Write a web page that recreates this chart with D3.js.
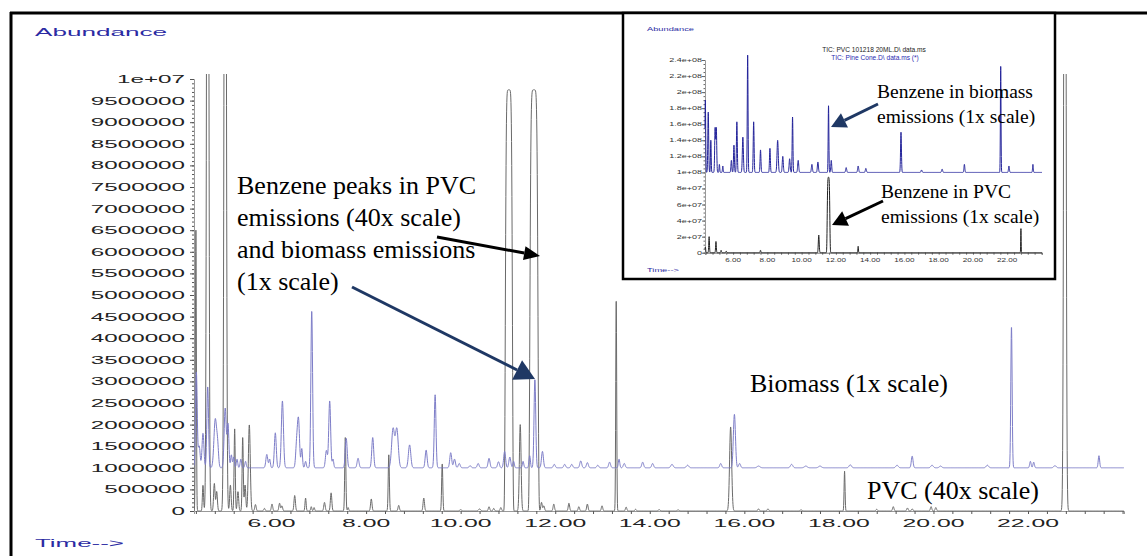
<!DOCTYPE html>
<html><head><meta charset="utf-8">
<script src="https://cdn.jsdelivr.net/npm/d3@7"></script>
<style>html,body{margin:0;padding:0;background:#fff;}svg{display:block;}</style>
</head><body>
<svg id="c" width="1147" height="556"></svg>
<script>
// ---------------- DATA ----------------
const timeDomain = [4.36, 24.03];
const mainYTicks = d3.range(0, 10000001, 500000);
const mainXTicks = [6, 8, 10, 12, 14, 16, 18, 20, 22];
const biomassBaseline = 1000000;
// biomass peaks: [time(min), height above baseline, sigma(min)]
const biomassPeaks = [
 [4.41,2220000,0.018],[4.47,500000,0.02],[4.55,800000,0.02],[4.65,1880000,0.018],[4.81,1120000,0.028],[4.86,450000,0.02],
 [5.02,1380000,0.022],[5.08,1000000,0.018],[5.15,300000,0.015],[5.2,250000,0.015],[5.27,200000,0.015],[5.35,200000,0.015],[5.45,150000,0.015],
 [5.9,310000,0.02],[5.96,200000,0.015],[6.08,810000,0.02],[6.23,1550000,0.022],[6.53,500000,0.02],[6.57,1100000,0.022],[6.64,440000,0.015],
 [6.72,150000,0.015],[6.85,3640000,0.018],[7.16,400000,0.02],[7.23,1550000,0.02],[7.3,200000,0.015],[7.58,680000,0.02],[7.83,220000,0.02],
 [8.14,700000,0.02],[8.57,900000,0.03],[8.65,900000,0.03],[8.92,530000,0.025],[9.27,410000,0.02],[9.46,1690000,0.018],[9.79,350000,0.02],
 [9.87,200000,0.02],[9.97,100000,0.02],[10.2,50000,0.02],[10.37,100000,0.02],[10.6,220000,0.02],[10.8,140000,0.02],[10.93,380000,0.02],
 [11.04,250000,0.02],[11.12,150000,0.015],[11.32,150000,0.015],[11.46,280000,0.015],[11.57,2050000,0.018],[11.73,380000,0.02],
 [11.98,80000,0.02],[12.2,80000,0.02],[12.35,80000,0.02],[12.54,160000,0.02],[12.68,120000,0.02],[12.9,60000,0.02],[13.15,130000,0.02],
 [13.35,200000,0.015],[13.46,100000,0.02],[13.85,130000,0.02],[14.06,100000,0.02],[14.47,80000,0.025],[14.8,60000,0.025],[15.5,100000,0.02],
 [15.79,1240000,0.022],[15.9,100000,0.02],[16.3,40000,0.03],[17.0,80000,0.025],[17.3,40000,0.03],[17.6,40000,0.03],[18.24,70000,0.025],
 [19.23,60000,0.025],[19.55,270000,0.018],[19.97,60000,0.025],[20.15,40000,0.025],[21.14,60000,0.025],[21.65,3280000,0.014],
 [22.05,150000,0.015],[22.12,130000,0.015],[22.57,50000,0.025],[23.5,280000,0.015]
];
// PVC (40x) peaks: [time, height, sigma, shape exponent]
const pvcPeaks = [
 [4.40,6500000,0.01,2],[4.55,600000,0.012,2],[4.65,25000000,0.02,2],[4.79,640000,0.015,2],[4.84,450000,0.015,2],[5.02,25000000,0.02,2],
 [5.13,600000,0.015,2],[5.22,1900000,0.012,2],[5.29,450000,0.015,2],[5.39,1720000,0.012,2],[5.44,600000,0.015,2],[5.53,2000000,0.02,2],
 [5.66,150000,0.015,2],[5.85,60000,0.015,2],[6.01,160000,0.015,2],[6.17,180000,0.015,2],[6.22,120000,0.015,2],[6.49,360000,0.015,2],
 [6.72,300000,0.012,2],[6.84,100000,0.012,2],[6.9,80000,0.012,2],[7.12,200000,0.015,2],[7.26,420000,0.015,2],[7.56,1700000,0.012,2],
 [7.62,80000,0.012,2],[8.11,280000,0.015,2],[8.48,1300000,0.012,2],[8.69,130000,0.015,2],[9.22,300000,0.015,2],[9.61,1100000,0.012,2],
 [10.0,30000,0.02,2],[10.4,50000,0.02,2],[10.6,100000,0.015,2],[10.7,60000,0.015,2],[10.85,80000,0.015,2],[11.02,9750000,0.07,6],
 [11.26,2000000,0.018,2],[11.55,9750000,0.08,6],[11.71,200000,0.015,2],[11.76,120000,0.015,2],[11.97,160000,0.015,2],[12.29,180000,0.015,2],
 [12.5,100000,0.015,2],[12.68,160000,0.015,2],[12.99,120000,0.015,2],[13.29,4950000,0.01,2],[13.5,90000,0.015,2],[13.7,40000,0.015,2],
 [14.2,30000,0.02,2],[14.6,25000,0.02,2],[15.71,1950000,0.022,2],[16.3,50000,0.015,2],[16.5,50000,0.015,2],[17.2,25000,0.02,2],
 [18.12,920000,0.01,2],[18.8,40000,0.015,2],[19.15,100000,0.015,2],[19.45,70000,0.015,2],[19.55,50000,0.015,2],[19.95,100000,0.015,2],
 [20.05,80000,0.015,2],[22.78,25000000,0.02,2]
];
// inset data
const insetYTicks = d3.range(0, 240000001, 20000000);
const insetXTicks = [6, 8, 10, 12, 14, 16, 18, 20, 22];
const insetBiomassBaseline = 100000000;
const insetBiomassPeaks = [
 [4.38,90000000,0.02],[4.55,75000000,0.025],[4.7,40000000,0.02],[4.95,55000000,0.025],[5.02,55000000,0.025],[5.2,10000000,0.02],
 [5.4,8000000,0.02],[5.9,15000000,0.025],[6.05,34000000,0.025],[6.22,63000000,0.025],[6.57,44000000,0.03],[6.85,146000000,0.022],
 [7.2,63000000,0.025],[7.6,28000000,0.025],[8.15,30000000,0.025],[8.6,40000000,0.035],[8.9,20000000,0.03],[9.3,17000000,0.03],
 [9.47,69000000,0.022],[9.8,15000000,0.03],[10.6,10000000,0.03],[10.95,13000000,0.03],[11.57,83000000,0.02],[11.73,15000000,0.025],
 [12.6,6000000,0.03],[13.3,8000000,0.03],[13.75,5000000,0.03],[15.8,50000000,0.025],[17.0,3000000,0.03],[18.2,4000000,0.03],
 [19.5,10000000,0.025],[21.62,132000000,0.018],[22.1,8000000,0.025],[23.5,10000000,0.02]
];
const insetPvcPeaks = [
 [4.38,7000000,0.02,2],[4.6,20000000,0.02,2],[5.0,14000000,0.02,2],[5.3,3000000,0.02,2],[5.6,2000000,0.02,2],[7.6,3000000,0.02,2],
 [11.0,22000000,0.025,2],[11.57,94000000,0.07,4],[13.3,8000000,0.015,2],[22.8,30000000,0.012,2]
];
const insetTitles = ["TIC: PVC 101218 20ML.D\\ data.ms", "TIC: Pine Cone.D\\ data.ms (*)"];
const mainNote = ["Benzene peaks in PVC", "emissions (40x scale)", "and biomass emissions", "(1x scale)"];
const insetNoteBio = ["Benzene in biomass", "emissions (1x scale)"];
const insetNotePvc = ["Benzene in PVC", "emissions (1x scale)"];

// ---------------- RENDER ----------------
const svg = d3.select("#c");
const BLUE_TXT = "#2b2ba3";

function trace(peaks, baseline, step) {
  const pts = [];
  for (let t = timeDomain[0]; t <= timeDomain[1] + 1e-9; t += step) {
    let v = baseline;
    for (const p of peaks) {
      const d = Math.abs((t - p[0]) / p[2]);
      if (d < 8) v += p[1] * Math.exp(-0.5 * Math.pow(d, p[3] || 2));
    }
    pts.push([t, v]);
  }
  return pts;
}

function stretchedText(g, x, y, str, size, sx, anchor, color) {
  return g.append("text")
    .attr("transform", `translate(${x},${y}) scale(${sx},1)`)
    .attr("text-anchor", anchor)
    .attr("font-family", "Liberation Sans, Arial, sans-serif")
    .attr("font-size", size)
    .attr("fill", color)
    .text(str);
}

// frame
svg.append("line").attr("x1", 11).attr("x2", 11).attr("y1", 12).attr("y2", 556).attr("stroke", "#000").attr("stroke-width", 3);
svg.append("line").attr("x1", 10).attr("x2", 1147).attr("y1", 13).attr("y2", 13).attr("stroke", "#000").attr("stroke-width", 3);

// main scales
const x = d3.scaleLinear().domain(timeDomain).range([194, 1124]);
const y = d3.scaleLinear().domain([0, 10000000]).range([511, 79]);

svg.append("clipPath").attr("id", "mclip").append("rect").attr("x", 194).attr("y", 74).attr("width", 932).attr("height", 440);

// axes
const gy = svg.append("g").attr("transform", "translate(194,0)");
gy.call(d3.axisLeft(y).tickValues(d3.range(0, 10000001, 100000)).tickSize(2).tickFormat(""));
gy.call(g => g.select(".domain").remove());
const gy2 = svg.append("g").attr("transform", "translate(194,0)");
gy2.call(d3.axisLeft(y).tickValues(mainYTicks).tickSize(4).tickFormat(""));
gy2.select(".domain").attr("stroke", "#999");
svg.selectAll("g.tick line").attr("stroke", "#555");
mainYTicks.forEach(v => {
  stretchedText(svg, 185, y(v) + 4, v === 10000000 ? "1e+07" : String(v), 11, 2.2, "end", "#222");
});

const gx = svg.append("g").attr("transform", "translate(0,511)");
gx.call(d3.axisBottom(x).tickValues(d3.range(4.4, 24.01, 0.4)).tickSize(3).tickFormat(""));
gx.select(".domain").attr("stroke", "#999");
gx.selectAll(".tick line").attr("stroke", "#555");
mainXTicks.forEach(v => {
  stretchedText(svg, x(v), 527, v.toFixed(2), 11, 2.25, "middle", "#222");
});

stretchedText(svg, 35, 36, "Abundance", 11.5, 2.27, "start", BLUE_TXT);
stretchedText(svg, 35, 547, "Time-->", 11.5, 2.25, "start", BLUE_TXT);

// traces
const line = d3.line().x(d => x(d[0])).y(d => y(d[1]));
const plot = svg.append("g").attr("clip-path", "url(#mclip)");
plot.append("path").attr("d", line(trace(pvcPeaks, 0, 0.004))).attr("fill", "none").attr("stroke", "#6a6a6a").attr("stroke-width", 1);
plot.append("path").attr("d", line(trace(biomassPeaks, biomassBaseline, 0.004))).attr("fill", "none").attr("stroke", "#7d7dc8").attr("stroke-width", 1);

// annotations main
function serif(g, x0, y0, lines, size, lh, color) {
  const t = g.append("text").attr("font-family", "Liberation Serif, Times New Roman, serif").attr("font-size", size).attr("fill", color || "#000");
  lines.forEach((s, i) => t.append("tspan").attr("x", x0).attr("y", y0 + i * lh).text(s));
}
serif(svg, 237, 194, mainNote, 26, 32);
serif(svg, 750, 392, ["Biomass (1x scale)"], 26, 0);
serif(svg, 867, 499, ["PVC (40x scale)"], 26, 0);

function arrow(g, x1, y1, x2, y2, color, w, hl, hw) {
  const a = Math.atan2(y2 - y1, x2 - x1);
  const bx = x2 - hl * Math.cos(a), by = y2 - hl * Math.sin(a);
  g.append("line").attr("x1", x1).attr("y1", y1).attr("x2", bx).attr("y2", by).attr("stroke", color).attr("stroke-width", w);
  const px = -Math.sin(a) * hw, py = Math.cos(a) * hw;
  g.append("path").attr("d", `M${x2},${y2}L${bx + px},${by + py}L${bx - px},${by - py}Z`).attr("fill", color);
}
arrow(svg, 352, 287, 535, 379, "#1f3864", 3, 20, 11);
arrow(svg, 437, 237, 540, 256, "#000", 3, 16, 7);

// ---------------- INSET ----------------
const ins = svg.append("g");
ins.append("rect").attr("x", 623).attr("y", 13).attr("width", 432).attr("height", 266).attr("fill", "#fff").attr("stroke", "#000").attr("stroke-width", 2.5);
const ix = d3.scaleLinear().domain(timeDomain).range([705, 1042]);
const iy = d3.scaleLinear().domain([0, 240000000]).range([252.7, 60]);

const iay = ins.append("g").attr("transform", "translate(705,0)");
iay.call(d3.axisLeft(iy).tickValues(d3.range(0, 240000001, 5000000)).tickSize(1.5).tickFormat(""));
iay.select(".domain").attr("stroke", "#999");
const iay2 = ins.append("g").attr("transform", "translate(705,0)");
iay2.call(d3.axisLeft(iy).tickValues(insetYTicks).tickSize(3).tickFormat(""));
iay2.select(".domain").remove();
ins.selectAll(".tick line").attr("stroke", "#666");
const fmtE = v => {
  if (v === 0) return "0";
  const e = Math.floor(Math.log10(v));
  const m = +(v / Math.pow(10, e)).toFixed(1);
  return m + "e+" + String(e).padStart(2, "0");
};
insetYTicks.forEach(v => stretchedText(ins, 702, iy(v) + 2, fmtE(v), 6, 1.5, "end", "#333"));
const iax = ins.append("g").attr("transform", "translate(0,252.7)");
iax.call(d3.axisBottom(ix).tickValues(d3.range(4.4, 24.01, 0.4)).tickSize(2).tickFormat(""));
iax.select(".domain").attr("stroke", "#777");
iax.selectAll(".tick line").attr("stroke", "#666");
insetXTicks.forEach(v => stretchedText(ins, ix(v), 262, v.toFixed(2), 6, 1.35, "middle", "#333"));
stretchedText(ins, 647, 31, "Abundance", 6, 1.55, "start", BLUE_TXT);
stretchedText(ins, 647, 272, "Time-->", 6, 1.55, "start", BLUE_TXT);
ins.append("text").attr("x", 874).attr("y", 52).attr("text-anchor", "middle").attr("font-family", "Liberation Sans, Arial, sans-serif").attr("font-size", 6.6).attr("fill", "#222").text(insetTitles[0]);
ins.append("text").attr("x", 875).attr("y", 60).attr("text-anchor", "middle").attr("font-family", "Liberation Sans, Arial, sans-serif").attr("font-size", 6.6).attr("fill", "#2a2ab0").text(insetTitles[1]);

const iline = d3.line().x(d => ix(d[0])).y(d => iy(d[1]));
ins.append("path").attr("d", iline(trace(insetPvcPeaks, 0, 0.005))).attr("fill", "none").attr("stroke", "#222").attr("stroke-width", 1);
ins.append("path").attr("d", iline(trace(insetBiomassPeaks, insetBiomassBaseline, 0.005))).attr("fill", "none").attr("stroke", "#23239a").attr("stroke-width", 1);

serif(ins, 877, 98, insetNoteBio, 19.5, 25);
serif(ins, 881, 198, insetNotePvc, 19.5, 25);
arrow(ins, 878, 104, 831, 127, "#1f3864", 3, 15, 8);
arrow(ins, 883, 201, 832, 225, "#000", 3, 15, 8);
</script>
</body></html>
